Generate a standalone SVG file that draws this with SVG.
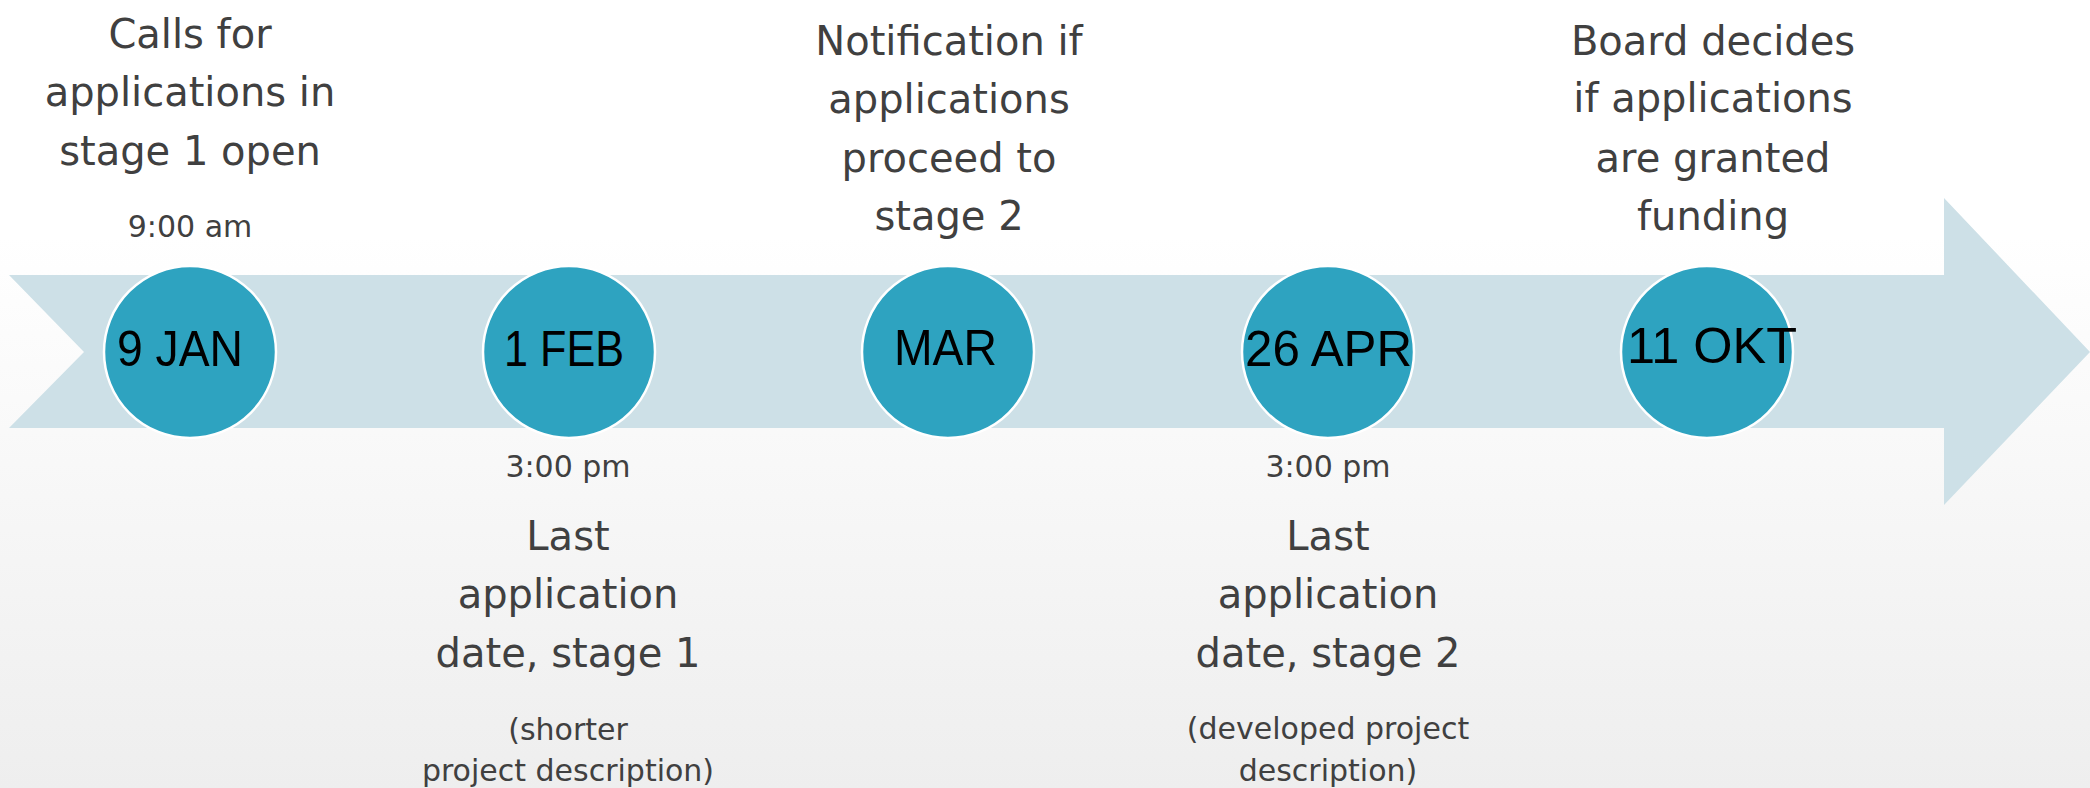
<svg xmlns="http://www.w3.org/2000/svg" width="2090" height="788" viewBox="0 0 2090 788">
  <defs>
    <linearGradient id="bg" x1="0" y1="0" x2="0" y2="1">
      <stop offset="0" stop-color="#ffffff"/>
      <stop offset="0.3" stop-color="#ffffff"/>
      <stop offset="1" stop-color="#eeeeee"/>
    </linearGradient>
  </defs>
  <style>
    .band { fill: #cde0e7; }
    .dot { fill: #2ea3c0; stroke: #ffffff; stroke-width: 2.5; }
    .date { font-family: "Liberation Sans", Arial, sans-serif; font-size: 50px; fill: #000000; }
    .lbl { font-family: "DejaVu Sans", Verdana, sans-serif; font-size: 40px; fill: #404040; text-anchor: middle; }
    .sm { font-family: "DejaVu Sans", Verdana, sans-serif; font-size: 30px; fill: #404040; text-anchor: middle; }
  </style>
  <rect x="0" y="0" width="2090" height="788" fill="url(#bg)"/>

  <g id="connectors">
    <polygon id="timeline-arrow" class="band" points="9,275 1944,275 1944,198 2090,352 1944,505 1944,428 9,428 84,352"/>
  </g>

  <g id="node-9jan">
    <circle class="dot" cx="190" cy="352" r="86"/>
    <text class="date" x="117" y="366" textLength="126" lengthAdjust="spacingAndGlyphs">9 JAN</text>
  </g>
  <g id="label-9jan">
    <text class="lbl" x="190" y="48">Calls for</text>
    <text class="lbl" x="190" y="106">applications in</text>
    <text class="lbl" x="190" y="165">stage 1 open</text>
    <text class="sm" x="190" y="237">9:00 am</text>
  </g>

  <g id="node-1feb">
    <circle class="dot" cx="569" cy="352" r="86"/>
    <text class="date" x="504" y="366" textLength="120" lengthAdjust="spacingAndGlyphs">1 FEB</text>
  </g>
  <g id="label-1feb">
    <text class="sm" x="568" y="477">3:00 pm</text>
    <text class="lbl" x="568" y="550">Last</text>
    <text class="lbl" x="568" y="608">application</text>
    <text class="lbl" x="568" y="667">date, stage 1</text>
    <text class="sm" x="568" y="740">(shorter</text>
    <text class="sm" x="568" y="781">project description)</text>
  </g>

  <g id="node-mar">
    <circle class="dot" cx="948" cy="352" r="86"/>
    <text class="date" x="894" y="365" textLength="103" lengthAdjust="spacingAndGlyphs">MAR</text>
  </g>
  <g id="label-mar">
    <text class="lbl" x="949" y="55">Notification if</text>
    <text class="lbl" x="949" y="113">applications</text>
    <text class="lbl" x="949" y="172">proceed to</text>
    <text class="lbl" x="949" y="230">stage 2</text>
  </g>

  <g id="node-26apr">
    <circle class="dot" cx="1328" cy="352" r="86"/>
    <text class="date" x="1245" y="366" textLength="167" lengthAdjust="spacingAndGlyphs">26 APR</text>
  </g>
  <g id="label-26apr">
    <text class="sm" x="1328" y="477">3:00 pm</text>
    <text class="lbl" x="1328" y="550">Last</text>
    <text class="lbl" x="1328" y="608">application</text>
    <text class="lbl" x="1328" y="667">date, stage 2</text>
    <text class="sm" x="1328" y="739">(developed project</text>
    <text class="sm" x="1328" y="781">description)</text>
  </g>

  <g id="node-11okt">
    <circle class="dot" cx="1707" cy="352" r="86"/>
    <text class="date" x="1627" y="363" textLength="170" lengthAdjust="spacingAndGlyphs">11 OKT</text>
  </g>
  <g id="label-11okt">
    <text class="lbl" x="1713" y="55">Board decides</text>
    <text class="lbl" x="1713" y="112">if applications</text>
    <text class="lbl" x="1713" y="172">are granted</text>
    <text class="lbl" x="1713" y="230">funding</text>
  </g>
</svg>
